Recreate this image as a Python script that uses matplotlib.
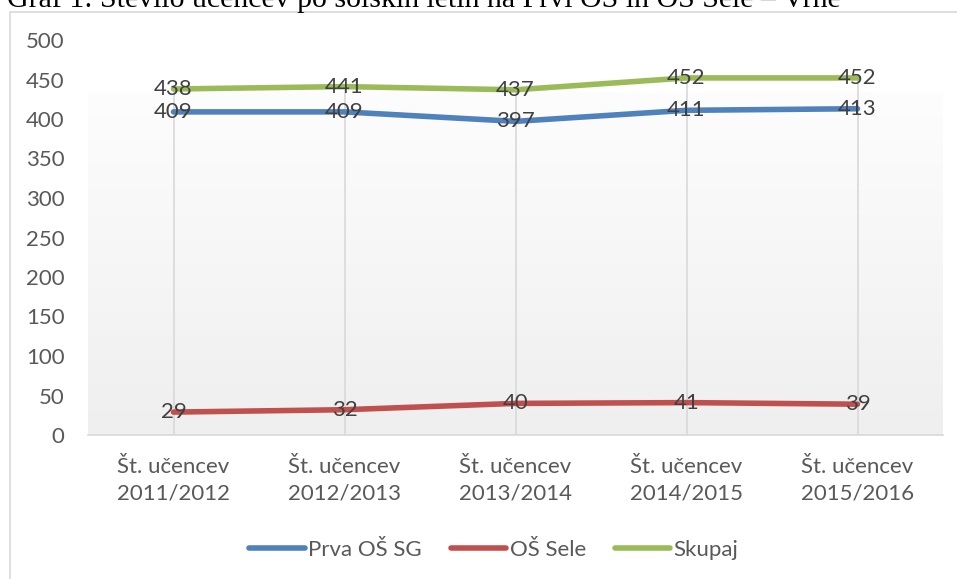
import matplotlib
matplotlib.use("Agg")
import matplotlib.pyplot as plt
import numpy as np
from matplotlib.lines import Line2D

# ---- data ----
categories = ["Št. učencev\n2011/2012", "Št. učencev\n2012/2013", "Št. učencev\n2013/2014",
              "Št. učencev\n2014/2015", "Št. učencev\n2015/2016"]
prva_os_sg = [409, 409, 397, 411, 413]
os_sele = [29, 32, 40, 41, 39]
skupaj = [438, 441, 437, 452, 452]
series_names = ["Prva OŠ SG", "OŠ Sele", "Skupaj"]
y_ticks = [0, 50, 100, 150, 200, 250, 300, 350, 400, 450, 500]
title = "Graf 1: Število učencev po šolskih letih na Prvi OŠ in OŠ Sele – Vrhe"

colors = ["#4f81bd", "#c0504d", "#9bbb59"]
FONT = ["Lato", "DejaVu Sans"]
TXT = "#595959"
FS = 16

W, H = 957, 579
fig = plt.figure(figsize=(W / 100, H / 100), dpi=100)
fig.patch.set_facecolor("white")

# outer chart border
border = plt.Rectangle((10 / W, -0.05), 1.2, 1 - 12 / H + 0.05, transform=fig.transFigure,
                       fill=False, edgecolor="#d9d9d9", linewidth=1.2)
fig.add_artist(border)

# title (partly cut off at top, as in the reference)
fig.text(7 / W, 1 - 7 / H, title, family=["Liberation Serif", "DejaVu Serif"], fontsize=21.5,
         color="black", ha="left", va="baseline")

ax = fig.add_axes([88 / W, 1 - 435 / H, (943 - 88) / W, (435 - 40) / H])
ax.set_facecolor("none")
x = np.arange(len(categories))

# gradient plot-area fill
grad = np.linspace(0, 1, 256).reshape(-1, 1)
top = np.array([0xfd, 0xfd, 0xfd]) / 255
bot = np.array([0xef, 0xef, 0xef]) / 255
img = bot + (top - bot) * grad[..., None]
ax.imshow(img, extent=[0, 1, 0, 0.868], transform=ax.transAxes, aspect="auto",
          origin="lower", zorder=0)

ax.set_xlim(-0.5, len(categories) - 0.5)
ax.set_ylim(0, 500)

# drop lines
tops = np.max([prva_os_sg, os_sele, skupaj], axis=0)
ax.vlines(x, 0, tops, color="#d9d9d9", linewidth=1.2, zorder=1)

for vals, c, name in zip([prva_os_sg, os_sele, skupaj], colors, series_names):
    ax.plot(x, vals, color=c, linewidth=4, solid_capstyle="round", zorder=3, label=name)
    for xi, v in zip(x, vals):
        ax.text(xi, v, str(v), ha="center", va="center", fontsize=FS, family=FONT,
                color="#404040", zorder=4)

for s in ["top", "right", "left"]:
    ax.spines[s].set_visible(False)
ax.spines["bottom"].set_color("#d9d9d9")
ax.spines["bottom"].set_linewidth(1.2)

ax.set_yticks(y_ticks)
ax.set_yticklabels([str(t) for t in y_ticks], family=FONT, fontsize=FS, color=TXT)
ax.set_xticks(x)
ax.set_xticklabels(categories, family=FONT, fontsize=FS, color=TXT, linespacing=1.45)
ax.tick_params(axis="y", length=0, pad=17)
ax.tick_params(axis="x", length=0, pad=15.5)

handles = [Line2D([0], [0], color=c, linewidth=4, solid_capstyle="round") for c in colors]
fig.legend(handles, series_names, loc="center", bbox_to_anchor=(494 / W, 1 - 550 / H), ncol=3,
           frameon=False, prop={"family": FONT, "size": FS}, labelcolor=TXT,
           handlelength=2.5, handletextpad=0.15, columnspacing=1.3)

fig.savefig("out.png", dpi=100, facecolor="white")
